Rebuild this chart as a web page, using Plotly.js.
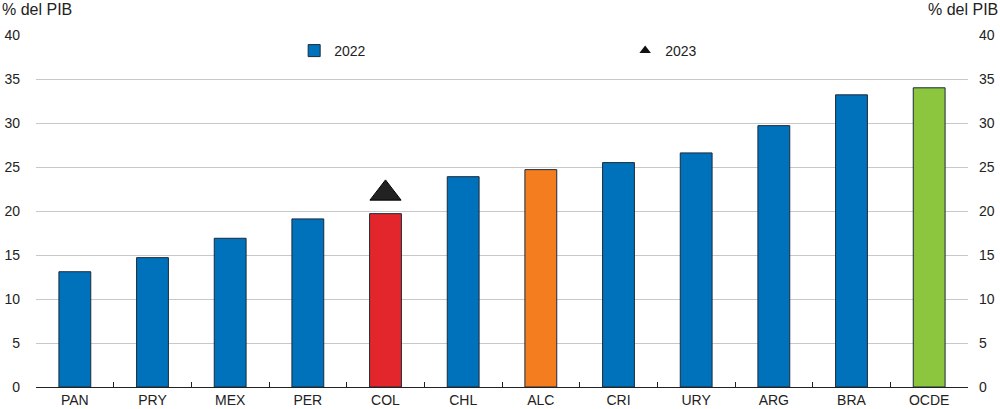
<!DOCTYPE html>
<html>
<head>
<meta charset="utf-8">
<script src="https://cdn.plot.ly/plotly-3.0.1.min.js"></script>
<style>html,body{margin:0;padding:0;background:#fff;}#chart{width:1000px;height:409px;}</style>
</head>
<body>
<div id="chart"></div>
<script>
const categories = ["PAN","PRY","MEX","PER","COL","CHL","ALC","CRI","URY","ARG","BRA","OCDE"];
const values2022 = [13.1, 14.7, 16.9, 19.1, 19.7, 23.9, 24.7, 25.5, 26.6, 29.7, 33.2, 34.0];
const values2023 = [null, null, null, null, 22.0, null, null, null, null, null, null, null];
const barColors = ["#0072BC","#0072BC","#0072BC","#0072BC","#E3262B","#0072BC","#F47D20","#0072BC","#0072BC","#0072BC","#0072BC","#8CC63F"];
const yTicks = [0,5,10,15,20,25,30,35,40];

const font = {family: "Liberation Sans, Arial, sans-serif", size: 14, color: "#222"};

const traces = [
  {
    type: "bar", name: "2022", x: categories, y: values2022,
    marker: {color: barColors, line: {color: "#1a2a3a", width: 1}},
    width: 0.41, hoverinfo: "skip", showlegend: true
  },
  {
    type: "scatter", mode: "markers", name: "2023", x: categories, y: values2023,
    marker: {symbol: "triangle-up", size: 27, color: "#222", line: {color: "#000", width: 1}},
    hoverinfo: "skip", showlegend: false
  },
  {
    type: "scatter", mode: "markers", name: "2023", x: [null], y: [null],
    marker: {symbol: "triangle-up", size: 10, color: "#111", line: {color: "#000", width: 0}},
    hoverinfo: "skip", showlegend: true
  },
  {
    type: "scatter", mode: "markers", x: categories, y: values2022.map(v => null), yaxis: "y2",
    showlegend: false, hoverinfo: "skip"
  }
];

const layout = {
  width: 1000, height: 409,
  margin: {l: 36, r: 32, t: 35, b: 22},
  paper_bgcolor: "#fff", plot_bgcolor: "#fff",
  font: font,
  showlegend: true,
  legend: {
    orientation: "h", x: 0.277, xanchor: "left", y: 1.0, yanchor: "top",
    bgcolor: "rgba(0,0,0,0)", entrywidth: 286, font: font,
    itemsizing: "trace"
  },
  xaxis: {
    type: "category", range: [-0.5, 11.5], autorange: false,
    showline: true, linecolor: "#222", linewidth: 1,
    ticks: "inside", tickson: "boundaries", ticklen: 5, tickcolor: "#222",
    showgrid: false, tickfont: font, fixedrange: true
  },
  yaxis: {
    range: [0, 40], tickvals: yTicks, showgrid: true, gridcolor: "#c8c8c8", gridwidth: 1,
    zeroline: false, showline: false, ticks: "", tickfont: font, fixedrange: true,
    ticklabelstandoff: 15
  },
  yaxis2: {
    range: [0, 40], tickvals: yTicks, overlaying: "y", side: "right", showgrid: false,
    zeroline: false, showline: false, ticks: "", tickfont: font, fixedrange: true,
    ticklabelstandoff: 10
  },
  annotations: [
    {text: "% del PIB", xref: "paper", yref: "paper", x: 0, xshift: -36, y: 1, yshift: 26, xanchor: "left", yanchor: "middle", showarrow: false, font: {family: font.family, size: 16, color: "#222"}},
    {text: "% del PIB", xref: "paper", yref: "paper", x: 1, xshift: 32, y: 1, yshift: 26, xanchor: "right", yanchor: "middle", showarrow: false, font: {family: font.family, size: 16, color: "#222"}}
  ]
};

Plotly.newPlot("chart", traces, layout, {displayModeBar: false, staticPlot: true});
</script>
</body>
</html>
